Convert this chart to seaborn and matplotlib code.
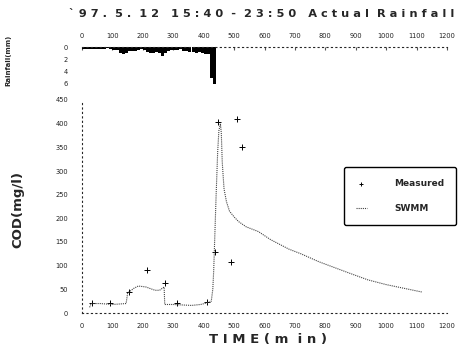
import numpy as np
import pandas as pd
import matplotlib
matplotlib.use("Agg")
import matplotlib.pyplot as plt
import seaborn as sns

# ---- data ----
rain_time = [0, 10, 20, 30, 40, 50, 60, 70, 80, 90, 100, 110, 120, 130, 140, 150, 160, 170,
             180, 190, 200, 210, 220, 230, 240, 250, 260, 270, 280, 290, 300, 310, 320, 330,
             340, 350, 360, 370, 380, 390, 400, 410, 420, 430]
rain_mm = [0.3, 0.4, 0.4, 0.3, 0.3, 0.4, 0.3, 0.3, 0.2, 0.3, 0.5, 0.5, 0.9, 1.1, 0.9, 0.7, 0.6, 0.6,
           0.5, 0.4, 0.5, 0.8, 1.0, 1.0, 0.8, 0.9, 1.4, 1.0, 0.6, 0.5, 0.5, 0.5, 0.4, 0.6,
           0.7, 0.8, 0.8, 0.9, 0.8, 1.0, 1.2, 1.2, 5.0, 6.0]

swmm_time = [25, 30, 60, 100, 145, 150, 170, 185, 210, 240, 255, 270, 272, 300, 330, 360, 390,
             415, 425, 430, 433, 437, 441, 446, 450, 455, 458, 461, 464, 467, 475, 485, 500,
             515, 540, 580, 620, 680, 720, 780, 830, 880, 940, 1000, 1060, 1120]
swmm_cod = [12, 20, 20, 18, 20, 42, 52, 57, 55, 48, 48, 55, 18, 18, 17, 16, 18,
            22, 25, 50, 90, 170, 250, 340, 385, 400, 380, 320, 290, 262, 235, 215, 203,
            193, 182, 172, 155, 135, 125, 108, 96, 84, 70, 60, 52, 44]

meas_time = [33, 92, 155, 213, 273, 312, 411, 438, 447, 490, 510, 526]
meas_cod = [21, 21, 44, 91, 63, 21, 23, 129, 403, 108, 409, 350]

xticks = [0, 100, 200, 300, 400, 500, 600, 700, 800, 900, 1000, 1100, 1200]
cod_ticks = [0, 50, 100, 150, 200, 250, 300, 350, 400, 450]
rain_ticks = [0, 2, 4, 6]

title = "` 9 7 .  5 .  1 2   1 5 : 4 0  -  2 3 : 5 0   A c t u a l  R a i n f a l l"
xlabel = "T I M E ( m  i n )"

sns.set_style("white")
plt.rcParams['font.family'] = ['DejaVu Sans']

W, H = 462, 348
fig = plt.figure(figsize=(W / 100, H / 100), dpi=100)

def rect(x0, y0, x1, y1):
    return [x0 / W, 1 - y1 / H, (x1 - x0) / W, (y1 - y0) / H]

# ---- rainfall panel ----
axr = fig.add_axes(rect(82, 47, 447, 84))
axr.bar(rain_time, rain_mm, width=10, align="edge", color="black", edgecolor="black", linewidth=0)
axr.set_xlim(0, 1200)
axr.set_ylim(6, 0)
axr.xaxis.tick_top()
axr.set_xticks(xticks)
axr.set_xticklabels([str(t) for t in xticks], fontsize=4.8, color="#222")
axr.set_yticks(rain_ticks)
axr.set_yticklabels([str(t) for t in rain_ticks], fontsize=4.8, color="#222")
axr.tick_params(axis="x", direction="in", length=2, pad=6, color="#555")
axr.tick_params(axis="y", direction="in", length=2, pad=10, color="#555")
for s in ["bottom", "right"]:
    axr.spines[s].set_visible(False)
axr.spines["top"].set_linestyle((0, (1, 3)))
axr.spines["top"].set_linewidth(0.8)
axr.spines["left"].set_visible(False)
axr.patch.set_alpha(0)

fig.text(8 / W, 1 - 60 / H, "Rainfall(mm)", rotation=90, fontsize=5, fontweight="bold",
         ha="center", va="center")

# ---- COD panel ----
ax = fig.add_axes(rect(82, 100, 447, 313))
df_swmm = pd.DataFrame({"time": swmm_time, "cod": swmm_cod})
df_meas = pd.DataFrame({"time": meas_time, "cod": meas_cod})
sns.lineplot(data=df_swmm, x="time", y="cod", ax=ax, color="#444444", linewidth=0.8,
             linestyle=(0, (1, 0.9)), sort=False, estimator=None, label="SWMM")
sns.scatterplot(data=df_meas, x="time", y="cod", ax=ax, marker="+", s=22, color="black",
                linewidth=0.7, label="Measured")
ax.set_xlim(0, 1200)
ax.set_ylim(0, 450)
ax.set_xticks(xticks)
ax.set_xticklabels([str(t) for t in xticks], fontsize=4.8, color="#222")
ax.set_yticks(cod_ticks)
ax.set_yticklabels([str(t) for t in cod_ticks], fontsize=4.8, color="#222")
ax.tick_params(axis="x", direction="in", length=2, pad=7, color="#555")
ax.tick_params(axis="y", direction="in", length=2, pad=10, color="#555")
for s in ["top", "right"]:
    ax.spines[s].set_visible(False)
for s in ["left", "bottom"]:
    ax.spines[s].set_linestyle((0, (1, 3)))
    ax.spines[s].set_linewidth(0.8)
ax.set_xlabel("")
ax.set_ylabel("")
ax.patch.set_alpha(0)

handles, labels = ax.get_legend_handles_labels()
order = [labels.index("Measured"), labels.index("SWMM")]
leg = ax.legend([handles[i] for i in order], [labels[i] for i in order],
                loc="center", bbox_to_anchor=(400 / W, 1 - 196 / H),
                bbox_transform=fig.transFigure, fontsize=6.5, frameon=True, fancybox=True,
                handlelength=1.2, handletextpad=3.0, borderpad=1.3, labelspacing=1.8,
                markerscale=0.6)
leg.get_frame().set_edgecolor("black")
leg.get_frame().set_linewidth(1.0)
leg.get_frame().set_alpha(1)
for t in leg.get_texts():
    t.set_fontweight("bold")

fig.text(18 / W, 1 - 210 / H, "COD(mg/l)", rotation=90, fontsize=9.5, fontweight="bold",
         ha="center", va="center")
fig.text(268 / W, 1 - 340 / H, xlabel, fontsize=9.5, fontweight="bold", ha="center", va="center")
fig.text(262 / W, 1 - 14 / H, title, fontsize=8.2, fontweight="bold", ha="center", va="center")

fig.savefig("out.png", dpi=100)
